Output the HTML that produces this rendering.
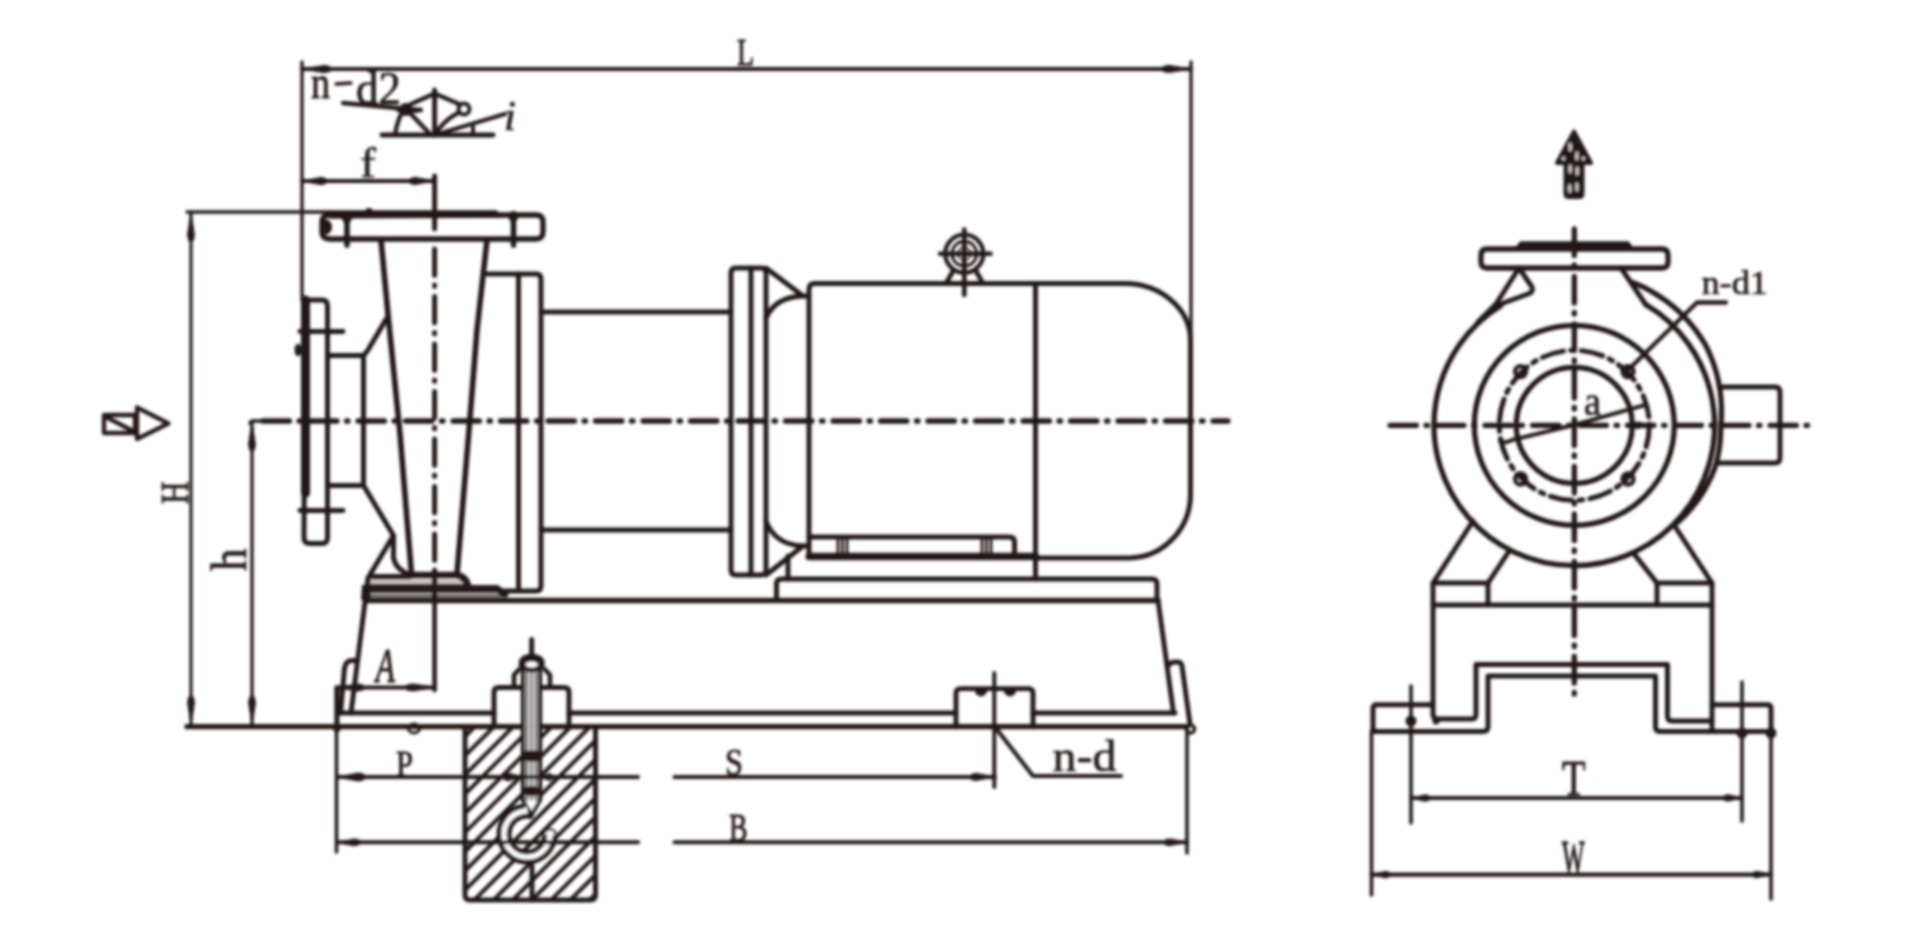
<!DOCTYPE html>
<html><head><meta charset="utf-8"><style>
html,body{margin:0;padding:0;background:#fff;}
svg{display:block;}
text{font-family:"Liberation Serif",serif;}
</style></head><body>
<svg width="1920" height="939" viewBox="0 0 1920 939">
<rect width="1920" height="939" fill="#fff"/>
<defs><filter id="bl" x="0" y="0" width="1920" height="939" filterUnits="userSpaceOnUse"><feGaussianBlur stdDeviation="1.4"/></filter></defs>
<g stroke="#231815" fill="none" stroke-linecap="round" stroke-linejoin="round" filter="url(#bl)">
<line x1="302" y1="62" x2="302" y2="300" stroke-width="3.30" />
<line x1="1191" y1="62" x2="1191" y2="340" stroke-width="3.30" />
<line x1="302" y1="69" x2="1191" y2="69" stroke-width="4.12" />
<path d="M302.0 69.0 L324.4 65.4 L330.0 66.5 L330.0 71.5 L324.4 72.6Z" fill="#231815" stroke="#231815" stroke-width="1"/>
<path d="M1191.0 69.0 L1168.6 72.6 L1163.0 71.5 L1163.0 66.5 L1168.6 65.4Z" fill="#231815" stroke="#231815" stroke-width="1"/>
<text transform="translate(737.00,65.00) scale(0.716,1)" font-size="38.93" font-style="normal" fill="#231815" stroke="#231815" stroke-width="0.98">L</text>
<text transform="translate(311.00,98.00) scale(0.812,1)" font-size="46.81" font-style="normal" fill="#231815" stroke="#231815" stroke-width="0.86">n</text>
<line x1="336" y1="84" x2="351" y2="83" stroke-width="3.30" />
<text transform="translate(356.00,103.55) scale(0.991,1)" font-size="45.39" font-style="normal" fill="#231815" stroke="#231815" stroke-width="0.71">d2</text>
<path d="M343 103 L397 108 L421 110" stroke-width="4.29" />
<line x1="382" y1="135" x2="493" y2="135" stroke-width="4.95" />
<line x1="434.6" y1="90" x2="434.6" y2="135" stroke-width="4.95" />
<path d="M395 135 Q397 122 402 112" stroke-width="4.29" />
<path d="M409 105 L434.6 93.5 L459 104" stroke-width="4.29" />
<path d="M410 113 L431 135" stroke-width="4.29" />
<path d="M434.6 135 Q444 120 458 113" stroke-width="4.29" />
<path d="M434.6 135 L505 114" stroke-width="4.29" />
<line x1="473" y1="127" x2="473" y2="135" stroke-width="3.96" />
<circle cx="405.5" cy="109.5" r="4.5" stroke-width="3.96" fill="none" />
<line x1="398" y1="110" x2="417" y2="111" stroke-width="3.96" />
<circle cx="464" cy="109" r="5.5" stroke-width="3.96" fill="none" />
<text transform="translate(504.00,130.00) scale(1.010,1)" font-size="42.42" font-style="italic" fill="#231815" stroke="#231815" stroke-width="0.69">i</text>
<line x1="302" y1="181" x2="434" y2="181" stroke-width="4.12" />
<path d="M302.0 181.0 L321.2 177.4 L326.0 178.5 L326.0 183.5 L321.2 184.6Z" fill="#231815" stroke="#231815" stroke-width="1"/>
<path d="M434.0 181.0 L414.8 184.6 L410.0 183.5 L410.0 178.5 L414.8 177.4Z" fill="#231815" stroke="#231815" stroke-width="1"/>
<text transform="translate(360.00,176.50) scale(1.161,1)" font-size="41.13" font-style="normal" fill="#231815" stroke="#231815" stroke-width="0.60">f</text>
<line x1="434.6" y1="176" x2="434.6" y2="229" stroke-width="4.95" />
<line x1="187" y1="212" x2="330" y2="212" stroke-width="3.30" />
<line x1="191" y1="212" x2="191" y2="726" stroke-width="3.13" />
<path d="M191.0 212.5 L194.4 234.9 L193.4 240.5 L188.6 240.5 L187.6 234.9Z" fill="#231815" stroke="#231815" stroke-width="1"/>
<path d="M191.0 725.0 L187.6 702.6 L188.6 697.0 L193.4 697.0 L194.4 702.6Z" fill="#231815" stroke="#231815" stroke-width="1"/>
<text transform="translate(188.00,504.00) rotate(-90) scale(0.787,1)" font-size="39.69" font-style="normal" fill="#231815" stroke="#231815" stroke-width="0.89">H</text>
<path d="M250 423 Q251 421 254 421 L263 421" stroke-width="3.63" />
<line x1="252" y1="421" x2="252" y2="726" stroke-width="3.30" />
<path d="M252.0 422.0 L255.4 444.4 L254.4 450.0 L249.6 450.0 L248.6 444.4Z" fill="#231815" stroke="#231815" stroke-width="1"/>
<path d="M252.0 725.0 L248.6 702.6 L249.6 697.0 L254.4 697.0 L255.4 702.6Z" fill="#231815" stroke="#231815" stroke-width="1"/>
<text transform="translate(246.00,571.00) rotate(-90) scale(0.894,1)" font-size="50.36" font-style="normal" fill="#231815" stroke="#231815" stroke-width="0.78">h</text>
<path d="M104 415 L135 415 L135 433 L104 433 Z M104 416 L135 432" stroke-width="4.29" />
<path d="M137 407.5 L168.5 423.5 L137 439 Z" stroke-width="4.29" stroke-linejoin="round"/>
<line x1="263" y1="421" x2="1228" y2="421" stroke-width="5.28" stroke-dasharray="26.5 9.5 1.5 10"/>
<path d="M330 215 L536 215 Q543 215 543 222 L543 232 Q543 239 536 239 L330 239 Q322 239 322 232 L322 222 Q322 215 330 215 Z" stroke-width="5.28" />
<path d="M330 211.5 L496 211.5 L502 216.5 L330 217.5 Z" stroke-width="2.47" fill="#231815"/>
<line x1="347" y1="214" x2="347" y2="245" stroke-width="5.61" />
<line x1="513.5" y1="214" x2="513.5" y2="245" stroke-width="5.61" />
<ellipse cx="326.5" cy="227" rx="5" ry="7" fill="#231815"/>
<path d="M342 218 L352 218 L347 226 Z" fill="#231815"/>
<path d="M508 216 L519 216 L513.5 224 Z" fill="#231815"/>
<circle cx="513.5" cy="216" r="5" fill="#231815" stroke="none"/>
<circle cx="369" cy="212" r="4" fill="#231815" stroke="none"/>
<path d="M381 240 L388 314 L400 434 L411.5 574" stroke-width="5.61" />
<path d="M487 240 L477 330 L469 430 L457 574" stroke-width="5.61" />
<line x1="434.6" y1="249" x2="434.6" y2="574" stroke-width="4.95" stroke-dasharray="26.5 9.5 1.5 10"/>
<line x1="434.6" y1="574" x2="434.6" y2="690" stroke-width="4.62" />
<path d="M487 274 L536 274 Q541 274 541 279 L541 586 Q541 591 536 591 L504 591" stroke-width="4.95" />
<line x1="518.5" y1="274" x2="518.5" y2="590" stroke-width="4.95" />
<path d="M305 305 Q305 300 310 300 L322 300 Q327.5 300 327.5 306 L327.5 538 Q327.5 543.5 322 543.5 L310 543.5 Q304 543.5 304 538 Z" stroke-width="4.95" />
<line x1="305.5" y1="300" x2="305.5" y2="493" stroke-width="9.07" />
<line x1="300" y1="331.5" x2="343" y2="331.5" stroke-width="4.95" />
<line x1="300" y1="510.5" x2="343" y2="510.5" stroke-width="4.95" />
<ellipse cx="298" cy="350" rx="3" ry="6" fill="#231815"/>
<path d="M327.5 355.5 L363.5 355.5 L363.5 485.5 L327.5 485.5" stroke-width="4.95" />
<path d="M363.5 355.5 Q366 353 368 350 L388 316" stroke-width="4.95" />
<path d="M363.5 485.5 L393.5 535.5 L393.5 558 Q396 570 410 574.5" stroke-width="4.95" />
<path d="M393.5 535.5 L368 578 L351 713" stroke-width="4.95" />
<path d="M410 575 L457 575 Q465 576 467.5 584" stroke-width="6.60" />
<line x1="372" y1="576.5" x2="410" y2="576.5" stroke-width="4.95" />
<line x1="369" y1="581.5" x2="467.5" y2="581.5" stroke-width="1.98" stroke-opacity="0.5"/>
<line x1="369" y1="586.5" x2="467.5" y2="586.5" stroke-width="4.29" />
<line x1="369" y1="590.5" x2="497" y2="590.5" stroke-width="4.29" />
<path d="M467 588.5 L497 588.5 L505 594" stroke-width="6.93" />
<line x1="369" y1="595.8" x2="505" y2="595.8" stroke-width="2.97" stroke-opacity="0.75"/>
<line x1="367" y1="600.5" x2="1158" y2="600.5" stroke-width="5.28" />
<path d="M362 585 L371 585 L370 600 L361 600 Z" fill="#231815" stroke="none"/>
<line x1="541" y1="312" x2="731" y2="312" stroke-width="4.95" />
<line x1="541" y1="530" x2="731" y2="530" stroke-width="4.95" />
<path d="M736 268 L761 268 Q766 268 766 273 L766 570 Q766 575 761 575 L736 575 Q731 575 731 570 L731 273 Q731 268 736 268 Z" stroke-width="4.95" />
<line x1="751" y1="268" x2="751" y2="575" stroke-width="4.95" />
<path d="M766 268 L803 296 L809 296" stroke-width="4.95" />
<path d="M766 318 Q775 297 803 296" stroke-width="4.95" />
<path d="M766 575 L803 546 L809 546" stroke-width="4.95" />
<path d="M766 521 Q775 545 803 546" stroke-width="4.95" />
<path d="M809 557 L809 289 Q809 283.5 815 283.5 L1124 283.5 A66 57 0 0 1 1190.5 340 L1190.5 494 A62 64 0 0 1 1129 558 L1035.5 558" stroke-width="4.95" />
<line x1="1035.5" y1="283.5" x2="1035.5" y2="579" stroke-width="4.95" />
<path d="M809 537 L1009 537 Q1014.5 537 1014.5 542 L1014.5 556" stroke-width="4.95" />
<line x1="809" y1="556.5" x2="1035.5" y2="556.5" stroke-width="7.26" />
<line x1="838.0" y1="538" x2="838.0" y2="555" stroke-width="2.80" />
<line x1="842.5" y1="538" x2="842.5" y2="555" stroke-width="2.80" />
<line x1="847.0" y1="538" x2="847.0" y2="555" stroke-width="2.80" />
<line x1="982.0" y1="538" x2="982.0" y2="555" stroke-width="2.80" />
<line x1="986.5" y1="538" x2="986.5" y2="555" stroke-width="2.80" />
<line x1="991.0" y1="538" x2="991.0" y2="555" stroke-width="2.80" />
<line x1="788" y1="556" x2="788" y2="579" stroke-width="4.95" />
<path d="M776.5 600 L776.5 584 Q776.5 579 781.5 579 L1152 579 Q1157 579 1157 584 L1157 600" stroke-width="4.95" />
<circle cx="964.3" cy="253.7" r="19.0" stroke-width="4.29" fill="none" />
<circle cx="964.3" cy="253.7" r="12.3" stroke-width="3.13" fill="none" />
<circle cx="964.3" cy="253.7" r="6.5" stroke-width="1.48" fill="none" />
<line x1="940" y1="253.7" x2="990.5" y2="253.7" stroke-width="4.62" />
<line x1="964.3" y1="229.5" x2="964.3" y2="295" stroke-width="4.62" />
<path d="M953 271 L946 283.5" stroke-width="4.62" />
<path d="M976 271 L983 283.5" stroke-width="4.62" />
<path d="M1158 600 L1173.5 713" stroke-width="4.95" />
<path d="M1169 665 Q1171 662 1175 662 L1178 662 Q1181 662 1182 666 L1190 724" stroke-width="4.95" />
<path d="M340.5 713 L344.5 668 Q346 660.5 352 660.5 L357 660.5" stroke-width="4.95" />
<line x1="339" y1="713" x2="494" y2="713" stroke-width="4.95" />
<line x1="569" y1="713" x2="956" y2="713" stroke-width="4.95" />
<line x1="1033" y1="713" x2="1175" y2="713" stroke-width="4.95" />
<line x1="187" y1="726.7" x2="1187" y2="726.7" stroke-width="5.28" />
<line x1="336.5" y1="687" x2="336.5" y2="852" stroke-width="3.63" />
<path d="M337 688 L337 727" stroke-width="4.95" />
<circle cx="337" cy="728" r="4" fill="#231815" stroke="none"/>
<ellipse cx="414" cy="728.5" rx="5.5" ry="4.5" stroke-width="3" fill="none"/>
<circle cx="1190.5" cy="729" r="4" stroke-width="3.63" fill="none" />
<line x1="337" y1="687.5" x2="434.8" y2="687.5" stroke-width="3.79" />
<path d="M434.8 687.5 L412.4 691.1 L406.8 690.0 L406.8 685.0 L412.4 683.9Z" fill="#231815" stroke="#231815" stroke-width="1"/>
<path d="M337.0 687.5 L357.8 683.9 L363.0 685.0 L363.0 690.0 L357.8 691.1Z" fill="#231815" stroke="#231815" stroke-width="1"/>
<text transform="translate(375.72,682.20) scale(0.633,1)" font-size="49.55" font-style="italic" fill="#231815" stroke="#231815" stroke-width="1.11">A</text>
<path d="M494 727 L494 692 Q494 687.4 499 687.4 L564 687.4 Q569 687.4 569 692 L569 727" stroke-width="4.95" />
<rect x="523" y="668" width="17" height="59" fill="#d8d8d8" stroke="none"/>
<line x1="523" y1="668" x2="523" y2="727" stroke-width="4.29" />
<line x1="540" y1="668" x2="540" y2="727" stroke-width="4.29" />
<line x1="527" y1="670" x2="527" y2="727" stroke-width="1.81" stroke-opacity="0.7"/>
<line x1="531.5" y1="670" x2="531.5" y2="727" stroke-width="1.81" stroke-opacity="0.7"/>
<line x1="536" y1="670" x2="536" y2="727" stroke-width="1.81" stroke-opacity="0.7"/>
<path d="M514 687 L514 675 L519.5 669" stroke-width="4.62" />
<path d="M550 687 L550 675 L544.5 669" stroke-width="4.62" />
<ellipse cx="531.7" cy="663" rx="13" ry="9.5" fill="#231815" stroke="none"/>
<ellipse cx="531.7" cy="664.5" rx="6" ry="3" fill="#fff" stroke="none"/>
<line x1="531.7" y1="639.5" x2="531.7" y2="656" stroke-width="4.95" />
<defs><clipPath id="fc"><path d="M465 727 L595.5 727 L595.5 895 Q595.5 900 590 900 L470 900 Q465 900 465 895 Z"/></clipPath></defs>
<path d="M423.9 720 L238.9 905 M443.1 720 L258.1 905 M462.3 720 L277.3 905 M481.5 720 L296.5 905 M500.7 720 L315.7 905 M519.9 720 L334.9 905 M539.1 720 L354.1 905 M558.3 720 L373.3 905 M577.5 720 L392.5 905 M596.7 720 L411.7 905 M615.9 720 L430.9 905 M635.1 720 L450.1 905 M654.3 720 L469.3 905 M673.5 720 L488.5 905 M692.7 720 L507.7 905 M711.9 720 L526.9 905 M731.1 720 L546.1 905 M750.3 720 L565.3 905 M769.5 720 L584.5 905" stroke-width="4" clip-path="url(#fc)"/>
<rect x="523" y="727" width="17" height="74" fill="#d8d8d8" stroke="none"/>
<path d="M523 800 L531.5 815 L540 800 Z" fill="#fff" stroke="none"/>
<line x1="523" y1="727" x2="523" y2="800" stroke-width="4.29" />
<line x1="540" y1="727" x2="540" y2="800" stroke-width="4.29" />
<path d="M523 800 L531.5 815 L540 800" stroke-width="3.96" />
<line x1="527" y1="727" x2="527" y2="800" stroke-width="1.81" stroke-opacity="0.7"/>
<line x1="531.5" y1="727" x2="531.5" y2="800" stroke-width="1.81" stroke-opacity="0.7"/>
<line x1="536" y1="727" x2="536" y2="800" stroke-width="1.81" stroke-opacity="0.7"/>
<path d="M527 811 A23 23 0 1 0 550 834" stroke="#fff" stroke-width="9" fill="none" stroke-linecap="butt"/>
<path d="M523 806.3 A28 28 0 1 0 555 835" stroke-width="4.95" />
<path d="M531 816.5 A18 18 0 1 0 545 835" stroke-width="4.95" />
<path d="M544 835 A5.5 5 0 0 1 556 835" fill="#fff" stroke-width="2.6"/>
<line x1="532" y1="866" x2="532" y2="900" stroke-width="4.95" />
<path d="M465 727 L465 895 Q465 900 470 900 L590 900 Q595.5 900 595.5 895 L595.5 727" stroke-width="4.95" />
<rect x="522.5" y="750.5" width="19" height="11" rx="5" fill="#231815" stroke="none"/>
<rect x="523.5" y="786" width="16" height="10" rx="5" fill="#231815" stroke="none"/>
<path d="M956 727 L956 693 Q956 688.6 961 688.6 L1028 688.6 Q1033 688.6 1033 693 L1033 727" stroke-width="4.95" />
<path d="M975 690 A6 6 0 0 0 987 690 Z M1004 690 A6 6 0 0 0 1016 690 Z" fill="#231815"/>
<line x1="994.3" y1="673" x2="994.3" y2="787" stroke-width="3.96" />
<line x1="337" y1="777" x2="638" y2="777" stroke-width="4.12" />
<line x1="674.5" y1="777" x2="995" y2="777" stroke-width="4.12" />
<path d="M337.0 777.0 L358.6 773.0 L364.0 774.2 L364.0 779.8 L358.6 781.0Z" fill="#231815" stroke="#231815" stroke-width="1"/>
<path d="M524.0 777.0 L508.0 780.8 L504.0 779.7 L504.0 774.3 L508.0 773.2Z" fill="#231815" stroke="#231815" stroke-width="1"/>
<path d="M540.0 777.0 L549.6 773.6 L552.0 774.6 L552.0 779.4 L549.6 780.4Z" fill="#231815" stroke="#231815" stroke-width="1"/>
<path d="M995.0 777.0 L975.8 780.6 L971.0 779.5 L971.0 774.5 L975.8 773.4Z" fill="#231815" stroke="#231815" stroke-width="1"/>
<text transform="translate(396.00,776.00) scale(0.854,1)" font-size="35.88" font-style="normal" fill="#231815" stroke="#231815" stroke-width="0.82">P</text>
<text transform="translate(725.00,774.61) scale(0.836,1)" font-size="38.81" font-style="normal" fill="#231815" stroke="#231815" stroke-width="0.84">S</text>
<line x1="337" y1="842.3" x2="638" y2="842.3" stroke-width="4.12" />
<line x1="674.5" y1="842.3" x2="1187" y2="842.3" stroke-width="4.12" />
<path d="M337.0 842.3 L354.6 838.9 L359.0 839.9 L359.0 844.7 L354.6 845.7Z" fill="#231815" stroke="#231815" stroke-width="1"/>
<path d="M1187.0 842.3 L1169.4 845.7 L1165.0 844.7 L1165.0 839.9 L1169.4 838.9Z" fill="#231815" stroke="#231815" stroke-width="1"/>
<text transform="translate(729.00,841.30) scale(0.680,1)" font-size="40.91" font-style="normal" fill="#231815" stroke="#231815" stroke-width="1.03">B</text>
<line x1="1187" y1="727" x2="1187" y2="853" stroke-width="3.63" />
<path d="M995 727 L1033 776 L1121 776" stroke-width="4.12" />
<text transform="translate(1052.50,771.05) scale(1.073,1)" font-size="44.68" font-style="normal" fill="#231815" stroke="#231815" stroke-width="0.65">n-d</text>
<path d="M1574 131.5 L1591 163 L1582.5 163 L1582.5 194 Q1582.5 197 1579.5 197 L1568.5 197 Q1565.5 197 1565.5 194 L1565.5 163 L1557 163 Z" stroke-width="3.96" fill="#231815" stroke-linejoin="round"/>
<ellipse cx="1570.2" cy="147" rx="1.6" ry="4.5" fill="#fff" fill-opacity="0.8" stroke="none"/>
<ellipse cx="1576.9" cy="156" rx="1.6" ry="4.5" fill="#fff" fill-opacity="0.8" stroke="none"/>
<ellipse cx="1563.5" cy="158.5" rx="1.6" ry="2" fill="#fff" fill-opacity="0.8" stroke="none"/>
<ellipse cx="1583.3" cy="158.5" rx="1.6" ry="2" fill="#fff" fill-opacity="0.8" stroke="none"/>
<ellipse cx="1570.2" cy="169" rx="1.6" ry="4.5" fill="#fff" fill-opacity="0.8" stroke="none"/>
<ellipse cx="1577.2" cy="171" rx="1.6" ry="4.5" fill="#fff" fill-opacity="0.8" stroke="none"/>
<ellipse cx="1569.8" cy="188.5" rx="1.6" ry="4.5" fill="#fff" fill-opacity="0.8" stroke="none"/>
<ellipse cx="1576.9" cy="187" rx="1.6" ry="4.5" fill="#fff" fill-opacity="0.8" stroke="none"/>
<line x1="1574.3" y1="229" x2="1574.3" y2="694" stroke-width="5.28" stroke-dasharray="26.5 9.5 1.5 10"/>
<line x1="1390" y1="425.3" x2="1813" y2="425.3" stroke-width="5.28" stroke-dasharray="26.5 9.5 1.5 10"/>
<path d="M1487 249 L1662 249 Q1668 249 1668 255 L1668 262 Q1668 268 1662 268 L1487 268 Q1481 268 1481 262 L1481 255 Q1481 249 1487 249 Z" stroke-width="5.28" />
<path d="M1516 249 L1521 243 L1628 243 L1632 249 Z" stroke-width="3.30" fill="#231815"/>
<path d="M1519 268 L1496 304 L1478 322" stroke-width="4.95" />
<path d="M1519 268 L1532 287 Q1534 292 1528 294 L1498 305" stroke-width="4.95" />
<path d="M1621 268 L1646 305" stroke-width="4.95" />
<path d="M1646.1 304.8 A140.3 140.3 0 1 1 1500.8 305.8" stroke-width="5.28" />
<path d="M1633.4 282.6 L1639.6 285.3 L1645.7 288.2 L1651.6 291.5 L1657.3 295.0 L1662.9 298.7 L1668.4 302.7 L1673.7 306.9 L1678.7 311.3 L1683.6 316.0 L1688.2 321.0 L1692.5 326.1 L1696.6 331.4 L1700.5 337.0 L1704.1 342.6 L1707.3 348.5 L1710.0 354.6 L1712.5 360.9 L1714.7 367.2 L1716.6 373.5 L1718.1 379.9 L1719.4 386.4 L1720.4 392.9 L1721.0 399.4 L1721.4 405.9 L1721.5 412.4 L1721.3 418.9 L1720.8 425.3 L1720.7 431.7 L1720.4 438.1 L1719.8 444.5 L1718.9 450.8 L1717.7 457.1 L1716.3 463.3 L1714.3 469.4 L1711.8 475.3 L1709.1 481.1 L1706.1 486.8 L1702.9 492.3 L1699.5 497.6 L1695.8 502.7 L1691.9 507.6 L1687.8 512.4 L1683.5 516.9 L1678.9 521.1 L1674.1 525.1" stroke-width="5.28" />
<circle cx="1574.3" cy="425.3" r="100" stroke-width="5.28" fill="none" />
<circle cx="1574.3" cy="425.3" r="75" stroke-width="4.95" fill="none" stroke-dasharray="22 7 4 7"/>
<circle cx="1574.3" cy="425.3" r="58" stroke-width="5.28" fill="none" />
<circle cx="1628.0" cy="371.6" r="5.5" stroke-width="4.29" fill="none" />
<circle cx="1520.6" cy="371.6" r="5.5" stroke-width="4.29" fill="none" />
<circle cx="1520.6" cy="479.0" r="5.5" stroke-width="4.29" fill="none" />
<circle cx="1628.0" cy="479.0" r="5.5" stroke-width="4.29" fill="none" />
<path d="M1719 387 L1775 387 Q1780 387 1780 392 L1780 458 Q1780 463 1775 463 L1717 463" stroke-width="4.95" />
<path d="M1628 370 L1697 302.5 L1726 302.5" stroke-width="4.29" />
<text transform="translate(1701.50,294.15) scale(1.043,1)" font-size="34.75" font-style="normal" fill="#231815" stroke="#231815" stroke-width="0.67">n-d1</text>
<text transform="translate(1584.00,414.60) scale(0.965,1)" font-size="39.58" font-style="normal" fill="#231815" stroke="#231815" stroke-width="0.73">a</text>
<path d="M1500 441 Q1505 444 1512 440 L1574 425 L1645 405" stroke-width="3.96" />
<path d="M1650.0 425.3 L1637.2 428.7 L1634.0 427.7 L1634.0 422.9 L1637.2 421.9Z" fill="#231815" stroke="#231815" stroke-width="1"/>
<path d="M1473 521 L1433 583 L1488 583 L1509.5 550.5" stroke-width="4.95" />
<path d="M1676 528 L1712 583 L1657 583 L1633 552.5" stroke-width="4.95" />
<line x1="1488" y1="583" x2="1488" y2="605" stroke-width="4.95" />
<line x1="1657" y1="583" x2="1657" y2="605" stroke-width="4.95" />
<line x1="1433" y1="605" x2="1712" y2="605" stroke-width="4.95" />
<path d="M1433 583 L1433 714 Q1433 719 1438 719 L1472 719 Q1476 719 1476 714 L1476 664.5 L1667.5 664.5 L1667.5 716 Q1667.5 721 1672 721 L1712 721" stroke-width="4.95" />
<path d="M1712 583 L1712 731" stroke-width="4.95" />
<path d="M1373 731 L1373 708 Q1373 704.7 1377 704.7 L1433 704.7" stroke-width="4.95" />
<path d="M1373 731.5 L1483 731.5 Q1488 731.5 1488 727 L1488 676 L1655.5 676 L1655.5 727 Q1655.5 731.5 1660 731.5 L1771 731.5" stroke-width="4.95" />
<path d="M1712 704.7 L1767 704.7 Q1771 704.7 1771 708 L1771 731" stroke-width="4.95" />
<line x1="1411" y1="686" x2="1411" y2="823" stroke-width="3.63" />
<line x1="1742" y1="682" x2="1742" y2="821" stroke-width="3.63" />
<circle cx="1411" cy="721" r="5.5" fill="#231815" stroke="none"/>
<circle cx="1436" cy="721" r="3.5" fill="#231815" stroke="none"/>
<circle cx="1742" cy="733" r="5.5" fill="#231815" stroke="none"/>
<circle cx="1771" cy="733" r="5.5" fill="#231815" stroke="none"/>
<line x1="1371.5" y1="731" x2="1371.5" y2="895" stroke-width="3.63" />
<line x1="1771" y1="731" x2="1771" y2="899" stroke-width="3.63" />
<line x1="1411" y1="798" x2="1742" y2="798" stroke-width="4.12" />
<path d="M1411.0 798.0 L1425.4 794.8 L1429.0 795.8 L1429.0 800.2 L1425.4 801.2Z" fill="#231815" stroke="#231815" stroke-width="1"/>
<path d="M1742.0 798.0 L1727.6 801.2 L1724.0 800.2 L1724.0 795.8 L1727.6 794.8Z" fill="#231815" stroke="#231815" stroke-width="1"/>
<text transform="translate(1562.00,795.00) scale(0.765,1)" font-size="50.38" font-style="normal" fill="#231815" stroke="#231815" stroke-width="0.92">T</text>
<line x1="1371.5" y1="874.6" x2="1771" y2="874.6" stroke-width="4.12" />
<path d="M1371.5 874.6 L1385.9 871.4 L1389.5 872.4 L1389.5 876.8 L1385.9 877.8Z" fill="#231815" stroke="#231815" stroke-width="1"/>
<path d="M1771.0 874.6 L1756.6 877.8 L1753.0 876.8 L1753.0 872.4 L1756.6 871.4Z" fill="#231815" stroke="#231815" stroke-width="1"/>
<text transform="translate(1562.00,872.70) scale(0.508,1)" font-size="46.87" font-style="normal" fill="#231815" stroke="#231815" stroke-width="1.38">W</text>
</g>
</svg>
</body></html>
